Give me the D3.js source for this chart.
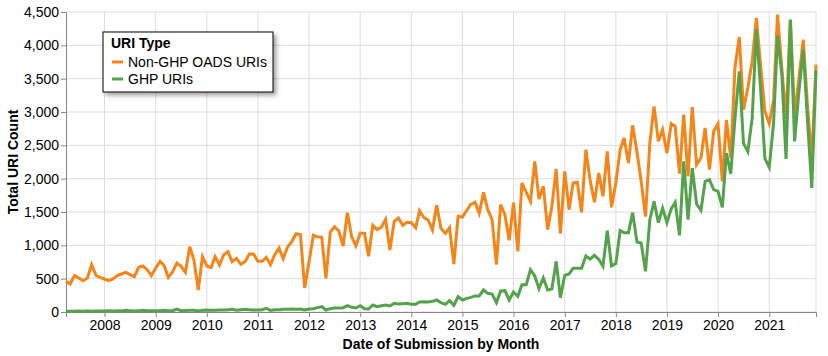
<!DOCTYPE html>
<html>
<head>
<meta charset="utf-8">
<script src="https://cdn.jsdelivr.net/npm/d3@7"></script>
<style>
  body { margin: 0; background: #fff; }
  text { font-family: "Liberation Sans", Arial, Helvetica, sans-serif; }
</style>
</head>
<body>
<div id="chart"></div>
<script>
// monthly submissions, April 2007 to December 2021
const firstMonth = "2007-04"
const lastMonth = "2021-12"

const seriesNames = ["Non-GHP OADS URIs", "GHP URIs"]
const seriesColors = ["#f58518", "#54a24b"]

const nonGhp = [
  460, 420, 545, 510, 470, 510, 710, 550, 520,
  495, 470, 495, 545, 570, 595, 560, 530, 670, 690, 635, 545,
  660, 760, 700, 520, 600, 735, 685, 595, 980, 780, 330, 830,
  690, 665, 830, 705, 855, 905, 755, 805, 715, 755, 870, 870,
  760, 760, 820, 710, 860, 960, 800, 975, 1060, 1175, 1160, 360,
  750, 1150, 1130, 1120, 505, 1200, 1280, 1215, 990, 1490, 1130, 990,
  1185, 1180, 835, 1300, 1235, 1270, 1390, 930, 1360, 1410, 1300, 1345,
  1340, 1265, 1520, 1415, 1380, 1230, 1600, 1255, 1180, 1265, 720, 1435,
  1425, 1525, 1615, 1645, 1480, 1795, 1535, 1385, 710, 1610, 1455, 1075,
  1640, 910, 1935, 1795, 1660, 2260, 1695, 1885, 1235, 1585, 2145, 1175,
  2110, 1535, 1935, 1945, 1495, 2435, 1985, 1645, 2085, 1735, 2410, 1570,
  1935, 2435, 2610, 2235, 2800, 2400, 1960, 1430, 2535, 3085, 2560, 2735,
  2385, 2825, 2785, 2075, 2960, 2035, 3075, 2210, 2310, 2760, 2135, 2710,
  2825, 1960, 2880, 2310, 3660, 4125, 3035, 3360, 3760, 4410, 3685, 3010,
  2825, 3185, 4460, 3660, 2900, 4380, 2950, 3500, 4085, 3100, 2290, 3710
]

const ghp = [
  10, 12, 12, 15, 10, 15, 12, 15, 15,
  15, 18, 15, 20, 15, 25, 20, 15, 20, 25, 20, 18,
  20, 18, 25, 20, 20, 45, 20, 22, 25, 25, 15, 25,
  30, 25, 25, 30, 30, 35, 40, 25, 35, 40, 35, 30,
  30, 35, 55, 25, 35, 35, 40, 40, 45, 40, 45, 30,
  45, 50, 65, 80, 30, 50, 60, 60, 65, 95, 70, 60,
  95, 50, 45, 105, 80, 95, 105, 90, 130, 120, 125, 130,
  115, 115, 150, 155, 150, 160, 180, 140, 115, 170, 100, 230,
  180, 205, 220, 240, 240, 330, 280, 270, 140, 315, 320, 180,
  300, 235, 410, 410, 635, 540, 350, 510, 330, 345, 760, 215,
  550, 570, 655, 655, 655, 840, 795, 850, 790, 685, 1220, 690,
  725, 1220, 1190, 1190, 1490, 1050, 1035, 610, 1385, 1660, 1340, 1560,
  1340, 1550, 1645, 1150, 2260, 1385, 2160, 1620, 1525, 1960, 1985, 1835,
  1810, 1570, 2385, 2070, 2900, 3610, 2530, 2405, 2905, 4240, 3320, 2305,
  2170, 2835, 4145, 3560, 2295, 4385, 2560, 3310, 3935, 2885, 1860, 3625
]

const yTicks = [0, 500, 1000, 1500, 2000, 2500, 3000, 3500, 4000, 4500]

// sizes
const w = 828
const h = 356
const margin = {top: 12, left: 66}
const innerWidth = 750
const innerHeight = 300
const font = '"Liberation Sans", Arial, Helvetica, sans-serif'

const parseMonth = d3.utcParse("%Y-%m")
const months = d3.utcMonth.range(parseMonth(firstMonth), d3.utcMonth.offset(parseMonth(lastMonth), 1))

const series = [nonGhp, ghp].map((vals, i) => ({
  name: seriesNames[i],
  color: seriesColors[i],
  values: months.map((m, j) => ({date: m, value: vals[j]}))
}))

const svg = d3.select("#chart").append("svg")
  .attr("width", w)
  .attr("height", h)

const defs = svg.append("defs")
const shadow = defs.append("filter").attr("id", "shadow")
  .attr("x", "-10%").attr("y", "-10%").attr("width", "130%").attr("height", "140%")
shadow.append("feDropShadow")
  .attr("dx", 3).attr("dy", 3).attr("stdDeviation", 2)
  .attr("flood-color", "#000").attr("flood-opacity", 0.35)

const g = svg.append("g")
  .attr("transform", `translate(${margin.left},${margin.top})`)

// scales
const x = d3.scaleUtc()
  .domain([months[0], months[months.length - 1]])
  .range([0, innerWidth])

const y = d3.scaleLinear()
  .domain([0, 4500])
  .range([innerHeight, 0])

// grid
const years = d3.utcYear.range(d3.utcYear.ceil(months[0]), months[months.length - 1])
g.append("g").selectAll("line").data(years).enter().append("line")
  .attr("x1", d => x(d)).attr("x2", d => x(d))
  .attr("y1", 0).attr("y2", innerHeight)
  .attr("stroke", "#ddd")
g.append("g").selectAll("line").data(yTicks).enter().append("line")
  .attr("x1", 0).attr("x2", innerWidth)
  .attr("y1", d => y(d)).attr("y2", d => y(d))
  .attr("stroke", "#ddd")
g.append("line")
  .attr("x1", innerWidth).attr("x2", innerWidth)
  .attr("y1", 0).attr("y2", innerHeight)
  .attr("stroke", "#ddd")

// axes
const xAxis = g.append("g")
  .attr("transform", `translate(0,${innerHeight})`)
  .call(d3.axisBottom(x).tickValues(years).tickFormat(d3.utcFormat("%Y")).tickSize(5).tickPadding(3))
const yAxis = g.append("g")
  .call(d3.axisLeft(y).tickValues(yTicks).tickFormat(d3.format(",")).tickSize(5).tickPadding(2))

;[xAxis, yAxis].forEach(a => {
  a.attr("font-size", 14).attr("font-family", font)
  a.select(".domain").attr("stroke", "#888")
  a.selectAll(".tick line").attr("stroke", "#888")
  a.selectAll(".tick text").attr("fill", "#000")
})

// axis titles
g.append("text")
  .attr("x", innerWidth / 2)
  .attr("y", innerHeight + 37)
  .attr("text-anchor", "middle")
  .attr("font-size", 14)
  .attr("font-weight", "bold")
  .text("Date of Submission by Month")

g.append("text")
  .attr("transform", `translate(${13 - margin.left},${innerHeight / 2}) rotate(-90)`)
  .attr("text-anchor", "middle")
  .attr("dy", "0.35em")
  .attr("font-size", 14)
  .attr("font-weight", "bold")
  .text("Total URI Count")

// lines
const line = d3.line()
  .x(d => x(d.date))
  .y(d => y(d.value))

g.selectAll(".series")
  .data(series)
  .enter().append("path")
  .attr("class", "series")
  .attr("d", d => line(d.values))
  .attr("fill", "none")
  .attr("stroke", d => d.color)
  .attr("stroke-width", 3)

// legend
const legend = svg.append("g").attr("transform", "translate(103,32)")
legend.append("rect")
  .attr("width", 170).attr("height", 60)
  .attr("fill", "#fff")
  .attr("stroke", "#000")
  .attr("stroke-width", 1)
  .attr("filter", "url(#shadow)")
legend.append("text")
  .attr("x", 8).attr("y", 16)
  .attr("font-size", 14)
  .attr("font-weight", "bold")
  .text("URI Type")

const items = legend.selectAll(".item")
  .data(series)
  .enter().append("g")
  .attr("transform", (d, i) => `translate(8,${30 + i * 17})`)
items.append("line")
  .attr("x1", 1).attr("x2", 12)
  .attr("stroke", d => d.color)
  .attr("stroke-width", 3)
items.append("text")
  .attr("x", 17)
  .attr("dy", "0.35em")
  .attr("font-size", 14)
  .text(d => d.name)
</script>
</body>
</html>
